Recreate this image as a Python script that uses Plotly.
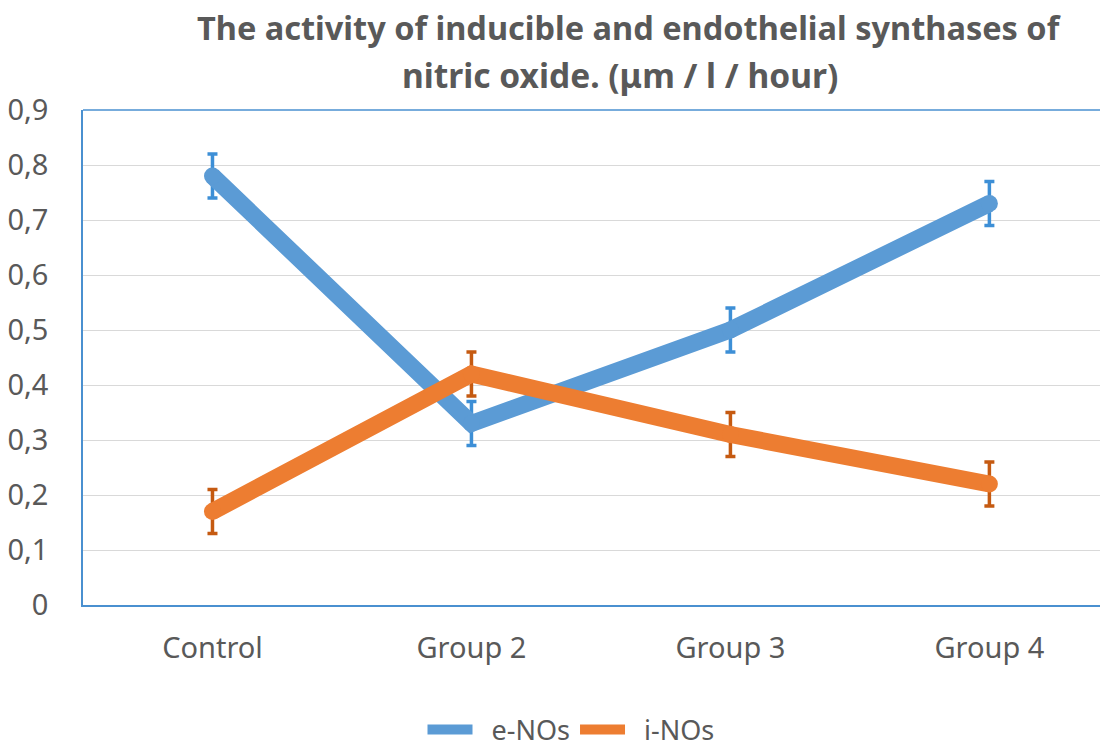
import plotly.graph_objects as go

categories = ["Control", "Group 2", "Group 3", "Group 4"]
enos = [0.78, 0.33, 0.50, 0.73]
enos_err = [0.04, 0.04, 0.04, 0.04]
inos = [0.17, 0.42, 0.31, 0.22]
inos_err = [0.04, 0.04, 0.04, 0.04]
y_ticks = [0, 0.1, 0.2, 0.3, 0.4, 0.5, 0.6, 0.7, 0.8, 0.9]
y_labels = ["0", "0,1", "0,2", "0,3", "0,4", "0,5", "0,6", "0,7", "0,8", "0,9"]
title_lines = ["The activity of inducible and endothelial synthases of",
               "nitric oxide. (μm / l / hour)"]

FONT = "Noto Sans"
GRAY = "#595959"
BLUE = "#5B9BD5"
ORANGE = "#ED7D31"

# page body has an 8px margin: figure is laid out in window px minus 8
OFF = 8
W, H = 1108 - OFF, 742 - OFF
L, T, B = 83 - OFF, 110 - OFF, 742 - 605
PW, PH = W - L, H - T - B


def px_x(x):
    return (x - OFF - L) / PW


def px_y(y):
    return (H - B - (y - OFF)) / PH


fig = go.Figure()
fig.add_trace(go.Scatter(
    x=categories, y=enos, name="e-NOs", mode="lines+markers", showlegend=False,
    line=dict(color=BLUE, width=17),
    marker=dict(color=BLUE, size=17),
    error_y=dict(type="data", array=enos_err, color="#3D8FD6", thickness=3.5, width=5),
))
fig.add_trace(go.Scatter(
    x=categories, y=inos, name="i-NOs", mode="lines+markers", showlegend=False,
    line=dict(color=ORANGE, width=17),
    marker=dict(color=ORANGE, size=17),
    error_y=dict(type="data", array=inos_err, color="#C55A11", thickness=3.5, width=5),
))
# legend entries
fig.add_trace(go.Scatter(x=[None], y=[None], name="\u00a0\u00a0e-NOs", mode="lines",
                         line=dict(color=BLUE, width=12)))
fig.add_trace(go.Scatter(x=[None], y=[None], name="\u00a0\u00a0i-NOs", mode="lines",
                         line=dict(color=ORANGE, width=12)))

fig.update_layout(
    width=W, height=H,
    margin=dict(l=L, r=0, t=T, b=B, autoexpand=False),
    paper_bgcolor="white", plot_bgcolor="white",
    font=dict(family=FONT, color=GRAY, size=28),
    showlegend=True,
    legend=dict(orientation="h", x=px_x(571), xanchor="center", y=px_y(730), yanchor="middle",
                font=dict(family=FONT, size=27, color=GRAY), itemwidth=45),
    xaxis=dict(
        type="category", range=[-0.5, 3.458], showgrid=False, automargin=False,
        showline=True, linecolor="#4A90D0", linewidth=1.5,
        ticks="", ticklabelstandoff=16, tickfont=dict(size=29, color=GRAY),
        zeroline=False,
    ),
    yaxis=dict(
        range=[0, 0.9], tickvals=y_ticks, ticktext=y_labels, automargin=False,
        showgrid=True, gridcolor="#D9D9D9", gridwidth=1,
        showline=True, linecolor="#4A90D0", linewidth=1.5,
        ticks="", ticklabelstandoff=27, tickfont=dict(size=29, color=GRAY),
        zeroline=False,
    ),
    shapes=[dict(type="line", xref="paper", yref="paper", x0=0, x1=1, y0=1, y1=1,
                 line=dict(color="#4A90D0", width=1.5))],
    annotations=[
        dict(text="<b>" + title_lines[0] + "</b>", xref="paper", yref="paper",
             x=px_x(629), y=px_y(27), xanchor="center", yanchor="middle", showarrow=False,
             font=dict(family=FONT, size=32.5, color=GRAY)),
        dict(text="<b>" + title_lines[1] + "</b>", xref="paper", yref="paper",
             x=px_x(620), y=px_y(75), xanchor="center", yanchor="middle", showarrow=False,
             font=dict(family=FONT, size=33.5, color=GRAY)),
    ],
)

fig.write_html("out.html")
